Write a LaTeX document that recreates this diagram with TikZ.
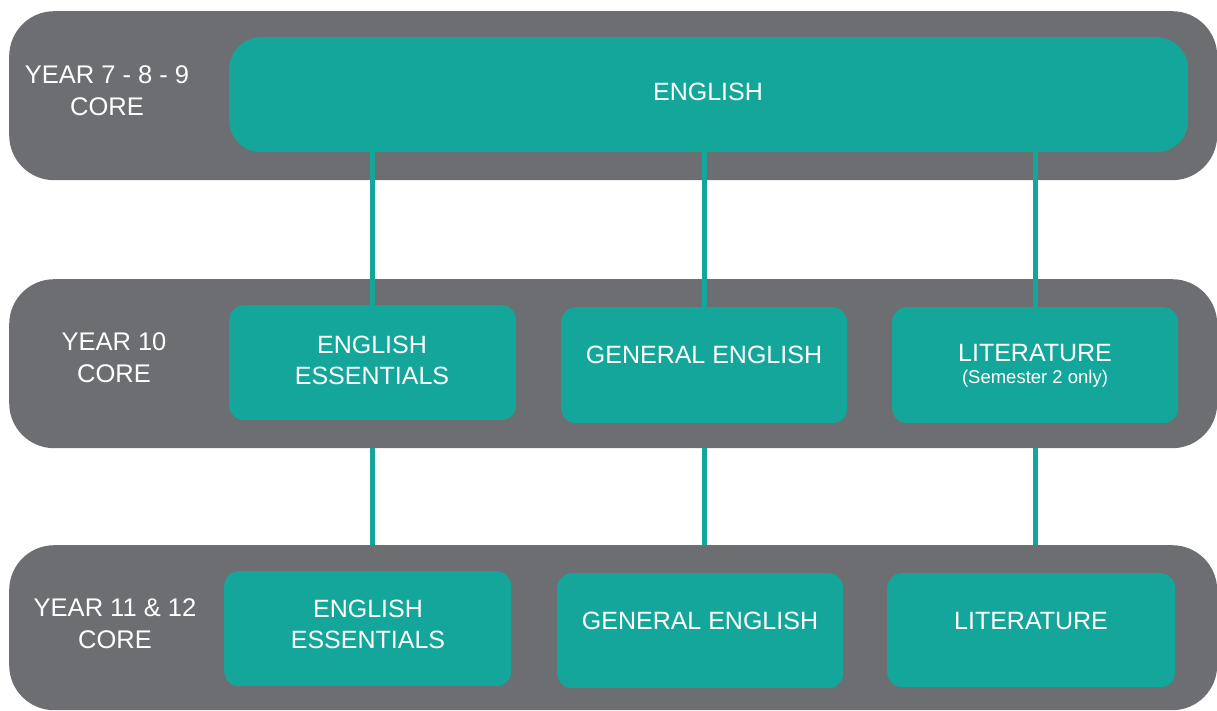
\documentclass[tikz,border=0pt]{standalone}
\usepackage{fontspec}
\setmainfont{Liberation Sans}
\definecolor{bandgray}{HTML}{6D6E71}
\definecolor{tealbox}{HTML}{14A69B}
\begin{document}
\begin{tikzpicture}[x=1pt,y=-1pt,
  band/.style={fill=bandgray, draw=none, rounded corners=45pt, inner sep=0pt, anchor=north west},
  bigbox/.style={fill=tealbox, draw=none, rounded corners=32pt, inner sep=0pt, anchor=north west},
  box/.style={fill=tealbox, draw=none, rounded corners=15pt, inner sep=0pt, anchor=north west},
  lbl/.style={text=white, inner sep=0pt, align=center, font=\fontsize{25.5}{32}\selectfont},
  txt/.style={text=white, inner sep=0pt, align=center, font=\fontsize{25}{31}\selectfont},
  small/.style={text=white, inner sep=0pt, align=center, font=\fontsize{18.5}{22}\selectfont},
  link/.style={draw=tealbox, line width=5pt}]
\useasboundingbox (0,0) rectangle (1217,711);
% bands
\node[band, minimum width=1208pt, minimum height=169pt] (b1) at (9,11) {};
\node[band, minimum width=1208pt, minimum height=169pt] (b2) at (9,279) {};
\node[band, minimum width=1208pt, minimum height=165pt] (b3) at (9,545) {};
% boxes
\node[bigbox, minimum width=959pt, minimum height=115pt] (top) at (229,37) {};
\node[box, minimum width=287pt, minimum height=115pt] (m1) at (229,305) {};
\node[box, minimum width=286pt, minimum height=116pt] (m2) at (561,307) {};
\node[box, minimum width=286pt, minimum height=116pt] (m3) at (892,307) {};
\node[box, minimum width=287pt, minimum height=115pt] (n1) at (224,571) {};
\node[box, minimum width=286pt, minimum height=115pt] (n2) at (557,573) {};
\node[box, minimum width=288pt, minimum height=114pt] (n3) at (887,573) {};
% labels
\node[lbl] (l1) at (107,91) {YEAR 7 - 8 - 9\\CORE};
\node[lbl] (l2) at (114,358) {YEAR 10\\CORE};
\node[lbl] (l3) at (115,624) {YEAR 11 \& 12\\CORE};
% texts
\node[txt] (ttop) at (708,92) {ENGLISH};
\node[txt] (tm1) at (372,360) {ENGLISH\\ESSENTIALS};
\node[txt] (tm2) at (704,355) {GENERAL ENGLISH};
\node[txt] (tm3) at (1035,353) {LITERATURE};
\node[small] (tm3b) at (1035,379) {(Semester 2 only)};
\node[txt] (tn1) at (368,624) {ENGLISH\\ESSENTIALS};
\node[txt] (tn2) at (700,621) {GENERAL ENGLISH};
\node[txt] (tn3) at (1031,621) {LITERATURE};
% connectors
\foreach \m in {m1,m2,m3}{
  \draw[link] (\m.north |- top.south) -- (\m.north);
  \draw[link] (\m.south |- b2.south) -- (\m.south |- b3.north);
}
\end{tikzpicture}
\end{document}
